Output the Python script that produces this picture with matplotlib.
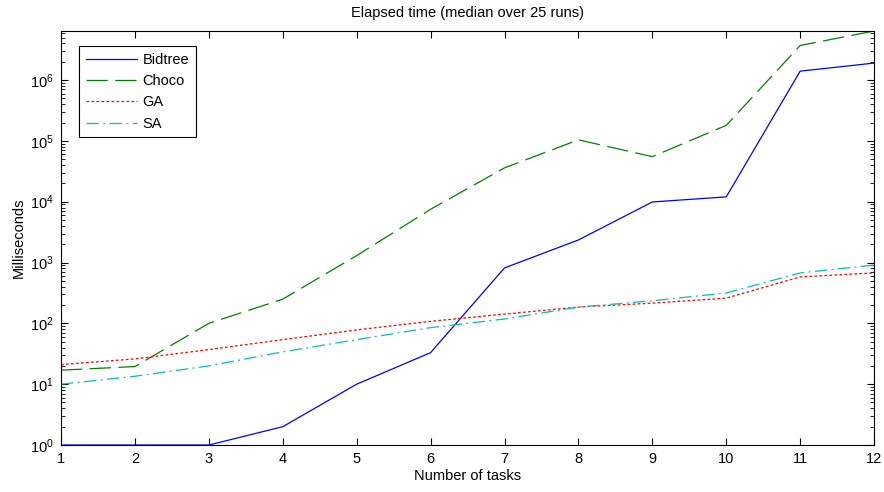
import matplotlib
matplotlib.use("Agg")
import matplotlib.pyplot as plt
from matplotlib.ticker import LogLocator, NullFormatter

plt.rcParams['font.family'] = ['Liberation Sans', 'DejaVu Sans']

# Data
tasks = [1, 2, 3, 4, 5, 6, 7, 8, 9, 10, 11, 12]
bidtree = [1, 1, 1, 2, 10, 33, 815, 2350, 9900, 12000, 1.4e6, 1.9e6]
choco = [17, 19.5, 100, 250, 1300, 7500, 36000, 1.04e5, 5.5e4, 1.8e5, 3.7e6, 6.4e6]
ga = [21, 26, 37, 54, 78, 108, 142, 185, 215, 260, 580, 675]
sa = [10, 13.5, 20, 34, 54, 85, 118, 185, 235, 316, 675, 910]

fig = plt.figure(figsize=(8.84, 4.92), dpi=100)
ax = fig.add_axes([0.069, 0.0955, 0.9198, 0.8415])

ax.plot(tasks, bidtree, color='#0000ff', lw=0.9, label='Bidtree')
ax.plot(tasks, choco, color='#008000', lw=0.9, dashes=(17, 6), label='Choco')
ax.plot(tasks, ga, color='#ff0000', lw=0.9, dashes=(2.2, 1.8), label='GA')
ax.plot(tasks, sa, color='#00bfbf', lw=0.9, dashes=(10, 3.5, 1.5, 3.5), label='SA')

ax.set_yscale('log')
ax.set_xlim(1, 12)
ax.set_ylim(1, 6.4e6)
ax.set_xticks(tasks)
ax.yaxis.set_major_locator(LogLocator(base=10, numticks=10))
ax.yaxis.set_minor_locator(LogLocator(base=10, subs=range(2, 10), numticks=100))
ax.yaxis.set_minor_formatter(NullFormatter())
ax.tick_params(which='both', direction='in', top=True, right=True, labelsize=10.5)
ax.tick_params(which='major', length=5, width=0.8, pad=5)
ax.tick_params(which='minor', length=3, width=0.6)
for s in ax.spines.values():
    s.set_linewidth(0.8)

ax.set_title('Elapsed time (median over 25 runs)', fontsize=10.5, pad=10)
ax.set_xlabel('Number of tasks', fontsize=10.5, labelpad=2)
ax.set_ylabel('Milliseconds', fontsize=10.5, labelpad=3)

leg = ax.legend(loc='upper left', bbox_to_anchor=(0.0225, 0.963), fontsize=10.5,
                fancybox=False, framealpha=1, edgecolor='black',
                handlelength=3.5, handletextpad=0.4, borderpad=0.45,
                labelspacing=0.5, borderaxespad=0)
leg.get_frame().set_linewidth(0.8)

fig.savefig('out.png', dpi=100)
